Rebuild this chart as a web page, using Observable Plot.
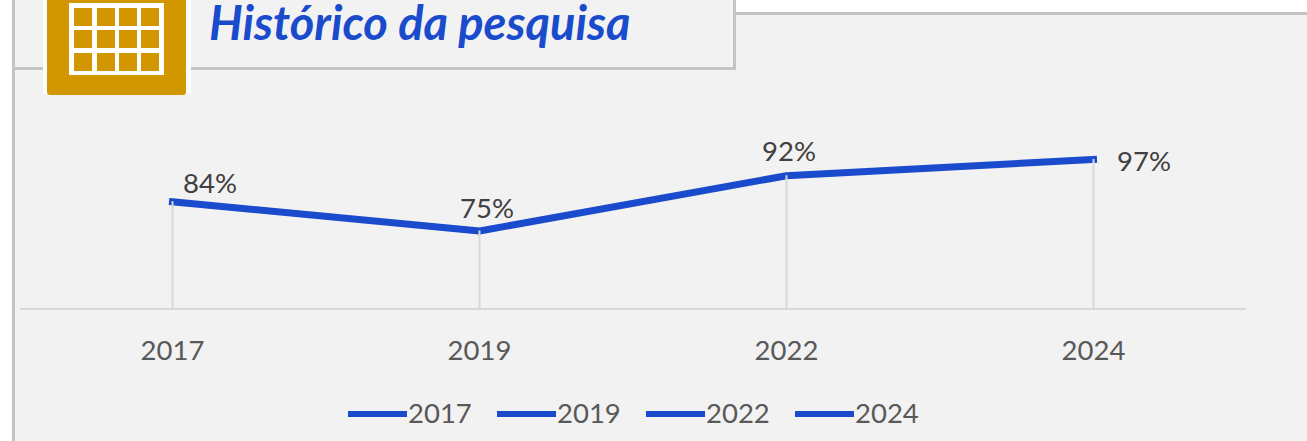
<!DOCTYPE html>
<html lang="pt">
<head>
<meta charset="utf-8">
<script src="https://cdn.jsdelivr.net/npm/d3@7"></script>
<script src="https://cdn.jsdelivr.net/npm/@observablehq/plot@0.6"></script>
<style>
  html, body { margin: 0; padding: 0; background: #fff; overflow: hidden; }
  #page { position: relative; width: 1307px; height: 441px; overflow: hidden; font-family: Lato, "Open Sans", sans-serif; }
  #page div { position: absolute; box-sizing: border-box; }
  #panel { left: 12px; top: 12px; width: 1295px; height: 429px; background: #f2f2f2; border-left: 3px solid #c4c4c4; border-top: 3px solid #c4c4c4; }
  #titlebox { left: 0; top: 0; width: 736px; height: 70px; border-right: 3px solid #c4c4c4; border-bottom: 3px solid #c4c4c4; background: #f2f2f2; }
  #titlemask { left: 0; top: 0; width: 12px; height: 70px; background: #fff; }
  #titleleft { left: 12px; top: 0; width: 3px; height: 70px; background: #c4c4c4; }
  #iconback { left: 43px; top: 0; width: 148px; height: 94px; background: #fff; }
  #icon { left: 47px; top: 0; width: 139px; height: 95px; background: #d29600; border-radius: 0 0 3px 3px; }
  #grid { left: 22px; top: 3px; width: 95px; height: 72px; background: #fff; }
  .cell { width: 18px; height: 18px; background: #d29600; }
  #title { left: 209px; top: 0; font-weight: 700; font-style: italic; font-size: 47px; line-height: 44px; color: #1a4bcc; white-space: nowrap; }
  #chart { left: 0; top: 0; }
  #chart svg { display: block; background: transparent !important; }
  .key { height: 6px; width: 59px; background: #1a4bcc; top: 411px; }
  .keylabel { top: 396px; font-size: 27.5px; line-height: 34px; color: #595959; }
</style>
</head>
<body>
<div id="page">
  <div id="panel"></div>
  <div id="titlebox"></div>
  <div id="titlemask"></div>
  <div id="titleleft"></div>
  <div id="iconback"></div>
  <div id="icon"><div id="grid"></div></div>
  <div id="title">Histórico da pesquisa</div>
  <div id="chart"></div>
</div>
<script>
const years = ["2017", "2019", "2022", "2024"];
const shares = [84, 75, 92, 97];
const labelDx = [37.5, 7.5, 2.5, 50.5];
const labelDy = [-18, -22, -24, 3];

const rows = years.map((year, i) => ({year, share: shares[i]}));

const labelMark = (i) => Plot.text([rows[i]], {
  x: "year", y: "share", text: d => d.share + "%",
  dx: labelDx[i], dy: labelDy[i],
  fontSize: 27.5, fontFamily: "Lato, 'Open Sans', sans-serif", fill: "#404040"
});

const chart = Plot.plot({
  width: 1307, height: 441,
  marginLeft: 20, marginRight: 61, marginTop: 0, marginBottom: 0,
  style: {background: "transparent"},
  x: {type: "point", domain: years, range: [172, 1093], padding: 0},
  y: {axis: null, domain: [51, 100], range: [308.5, 149.25]},
  marks: [
    Plot.ruleY([51], {stroke: "#d9d9d9", strokeWidth: 2}),
    Plot.line(rows, {x: "year", y: "share", stroke: "#1a4bcc", strokeWidth: 7, curve: "linear", strokeLinecap: "square", strokeLinejoin: "miter"}),
    Plot.ruleX(rows, {x: "year", y1: 51, y2: "share", stroke: "#d9d9d9", strokeWidth: 2}),
    Plot.axisX({
      anchor: "bottom", frameAnchor: "bottom", tickSize: 0, label: null,
      dy: -90, tickPadding: 0, lineAnchor: "middle",
      fontSize: 27.5, fontFamily: "Lato, 'Open Sans', sans-serif", fill: "#595959"
    }),
    ...years.map((_, i) => labelMark(i))
  ]
});
document.getElementById("chart").appendChild(chart);

const grid = document.getElementById("grid");
const cellX = [5, 28, 50, 72];
const cellY = [5, 27, 50];
cellY.forEach(t => cellX.forEach(l => {
  const c = document.createElement("div");
  c.className = "cell";
  c.style.left = l + "px";
  c.style.top = t + "px";
  grid.appendChild(c);
}));

const page = document.getElementById("page");
const keyX = [348, 497, 646, 795];
years.forEach((year, i) => {
  const k = document.createElement("div");
  k.className = "key";
  k.style.left = keyX[i] + "px";
  page.appendChild(k);
  const l = document.createElement("div");
  l.className = "keylabel";
  l.style.left = (keyX[i] + 60) + "px";
  l.textContent = year;
  page.appendChild(l);
});
</script>
</body>
</html>
